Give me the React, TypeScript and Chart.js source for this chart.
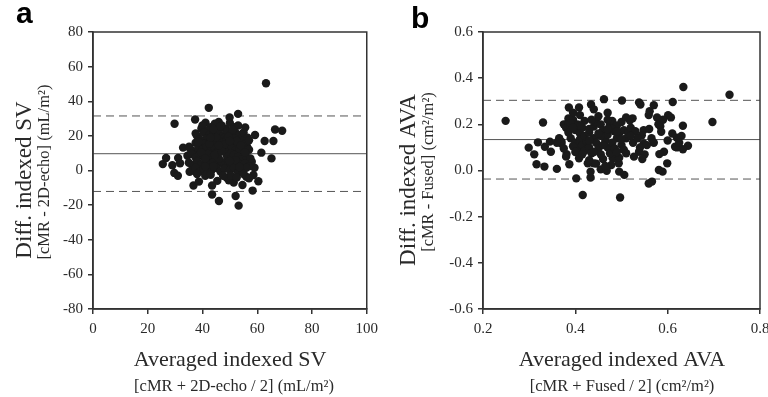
import React, { useEffect, useRef } from "react";
import { Chart, registerables } from "chart.js";

Chart.register(...registerables);

// Panel a: indexed SV (averaged vs difference)
const svAvg = [
  63.2, 42.3, 29.8, 37.3, 53, 49.9, 66.5, 69.1, 62.7, 65.9, 59.2, 61.5, 65.2, 25.5, 26.7, 29, 29.7, 31, 31.1, 36.7,
  38.7, 43.5, 46, 52.1, 53.2, 58.3, 60.4, 58.6, 59, 58, 54.6, 56, 51.4, 49.6, 48.8, 45.4, 43.5, 32.9, 35.1, 31.8,
  35.3, 37.5, 39.6, 41.1, 45.9, 55.6, 55.6, 56.3, 55.1,
  40, 43, 44.5, 47, 48.5, 50, 51.5, 53, 45, 42,
  38, 40.5, 42.5, 44, 46, 47.5, 49, 50.5, 52, 53.5, 55, 56.5, 41.5, 48,
  37.5, 39, 40.5, 43, 44.5, 46, 47.5, 49, 50.5, 51.8, 53, 54.5, 56, 57, 45, 52.5,
  35.5, 37, 38.5, 40, 41.5, 43, 44.5, 46, 47.5, 49, 50.5, 52, 53.5, 55, 57, 48.5, 50.5,
  34.5, 36, 37.5, 39, 40.5, 42, 43.5, 49, 50.5, 51.5, 53, 54.5, 56, 57.5, 45, 38,
  35, 36.5, 38, 39.5, 41, 42.5, 44, 45.5, 47, 48, 49.5, 51, 52.5, 54, 55.5, 57, 46,
  36, 37.5, 39, 40.5, 42, 43.5, 45, 46.5, 48, 50, 51.5, 53, 54.5, 56, 44, 41,
  38, 41, 43, 47.5, 50.5, 52.5, 55, 57,
  44, 46.5, 51, 49.5, 52.5, 54, 48, 42.5, 39.5, 41, 44.5, 52, 53.5, 50, 47, 55.5, 43, 38.5, 46, 50,
];
const svDiff = [
  50.4, 36.2, 27, 29.5, 32.7, 30.6, 23.7, 23, 17, 17, 20.5, 10.3, 7, 3.7, 7.2, 3, -1.4, -3, 7.2, -8.7,
  -6.4, -13.9, -17.6, -14.7, -20.3, -11.6, -6.2, -2.6, 1.6, 5, -8.4, -3.6, -7, -5.7, -4.1, -6, -8.7, 13.2, 13.7, 4.2,
  -0.7, 21.4, 24.3, 27.6, 28.1, 24.9, 18.5, 13.7, 9.9,
  26, 25, 27, 26, 24, 27.5, 25, 26, 23.5, 23,
  20, 22, 20.5, 21.5, 22, 20, 22.5, 21, 22, 20.5, 22, 19, 18.5, 19,
  16, 18, 15.5, 17, 15, 17.5, 16, 18, 16.5, 18.5, 15.5, 17, 15.8, 17.5, 19, 13.5,
  12.5, 11, 13, 12, 13.5, 11.5, 13, 12, 14, 12.5, 13, 11.5, 12, 13, 12, 10.5, 10,
  8.5, 9.5, 7.5, 9, 8, 9.5, 7.5, 8, 7, 9, 8, 6.5, 8, 7, 10, 5.5,
  4.5, 3, 5, 3.5, 5.5, 4, 5, 3.5, 5, 3, 4.5, 3, 5, 3.5, 4, 2.5, 7,
  0, 1.5, -0.5, 1, -1, 0.5, 1.5, -0.5, 1, 0, 1.5, -1, 0.5, 1.5, 2.5, 2.5,
  -2, -3, -2.5, -3, -3, -4, -2, -4.5,
  24, 25.5, 23.5, 19.5, 17, 14.5, 15, 15.5, 10.5, 7, 9, 6, 2, 5.5, 11, 10.5, 19, 16.5, 14.5, 17,
];
const svMean = 9.7;
const svUpper = 31.5;
const svLower = -12.1;
const svXTicks = [0, 20, 40, 60, 80, 100];
const svYTicks = [-80, -60, -40, -20, 0, 20, 40, 60, 80];

// Panel b: indexed AVA (averaged vs difference)
const avaAvg = [
  0.249, 0.299, 0.311, 0.316, 0.319, 0.33, 0.333, 0.334, 0.347, 0.345, 0.36, 0.37, 0.381, 0.387, 0.402, 0.416, 0.497,
  0.386, 0.408, 0.434, 0.462, 0.501, 0.538, 0.541, 0.57, 0.611, 0.634, 0.734, 0.697, 0.633, 0.644, 0.633, 0.616, 0.62,
  0.599, 0.589, 0.581, 0.566, 0.559, 0.592, 0.582, 0.601, 0.607, 0.584, 0.586, 0.577, 0.559, 0.561, 0.548, 0.544, 0.548,
  0.538, 0.527, 0.524, 0.518, 0.506, 0.495, 0.494, 0.481, 0.478, 0.455, 0.44, 0.433, 0.433, 0.427, 0.408, 0.468,
  0.375, 0.38, 0.385, 0.39, 0.395, 0.385, 0.39, 0.4, 0.405, 0.41, 0.415, 0.42, 0.4, 0.405, 0.41, 0.415, 0.42, 0.425,
  0.43, 0.435, 0.42, 0.43, 0.44, 0.445, 0.45, 0.455, 0.46, 0.44, 0.445, 0.45, 0.455, 0.46, 0.465, 0.47, 0.475, 0.48,
  0.485, 0.49, 0.47, 0.475, 0.48, 0.485, 0.49, 0.495, 0.5, 0.505, 0.51, 0.5, 0.505, 0.515, 0.52, 0.525, 0.51, 0.365,
  0.37, 0.375, 0.395, 0.36, 0.38, 0.4, 0.43, 0.445, 0.465, 0.47, 0.48, 0.455, 0.435, 0.41, 0.395, 0.53, 0.54, 0.55,
  0.56, 0.565, 0.57, 0.58, 0.59, 0.6, 0.61, 0.62, 0.63, 0.625, 0.545, 0.555, 0.535, 0.495, 0.44, 0.51, 0.47,
  0.385, 0.39, 0.41, 0.395, 0.43, 0.45, 0.47, 0.49, 0.52, 0.5, 0.46, 0.43, 0.415, 0.44, 0.49,
];
const avaDiff = [
  0.215, 0.099, 0.07, 0.027, 0.122, 0.208, 0.017, 0.103, 0.081, 0.125, 0.007, 0.117, 0.071, 0.027, -0.034, -0.106, -0.117,
  0.273, 0.273, 0.286, 0.309, 0.303, 0.295, 0.286, 0.283, 0.297, 0.362, 0.328, 0.21, 0.194, 0.107, 0.092, 0.103, 0.142,
  0.031, -0.005, 0.002, -0.048, -0.056, 0.081, 0.071, 0.24, 0.23, 0.192, 0.168, 0.23, 0.24, 0.257, 0.175, 0.153, 0.117,
  0.081, 0.06, 0.226, 0.218, -0.019, -0.005, 0.031, 0.053, 0.024, 0.005, 0.031, -0.03, -0.005, 0.031, 0.053, -0.001,
  0.2, 0.185, 0.21, 0.195, 0.22, 0.165, 0.14, 0.175, 0.2, 0.16, 0.185, 0.215, 0.12, 0.095, 0.135, 0.11, 0.085, 0.125,
  0.1, 0.075, 0.15, 0.165, 0.19, 0.21, 0.235, 0.2, 0.175, 0.14, 0.12, 0.095, 0.07, 0.05, 0.13, 0.155, 0.2, 0.215,
  0.17, 0.14, 0.1, 0.075, 0.12, 0.095, 0.195, 0.16, 0.21, 0.175, 0.14, 0.11, 0.09, 0.165, 0.185, 0.12, 0.075, 0.14,
  0.125, 0.095, 0.105, 0.12, 0.06, 0.08, 0.045, 0.03, 0.02, 0.25, 0.18, 0.15, 0.22, 0.24, 0.25, 0.17, 0.1, 0.07,
  0.18, 0.14, 0.12, 0.2, 0.22, 0.13, 0.16, 0.1, 0.15, 0.12, 0.05, 0.11, 0.14, 0.055, 0.265, 0.23, 0.22,
  0.225, 0.205, 0.195, 0.185, 0.18, 0.16, 0.18, 0.17, 0.15, 0.135, 0.11, 0.13, 0.07, 0.08, 0.08,
];
const avaMean = 0.134;
const avaUpper = 0.304;
const avaLower = -0.037;
const avaXTicks = [0.2, 0.4, 0.6, 0.8];
const avaYTicks = [-0.6, -0.4, -0.2, 0, 0.2, 0.4, 0.6];

const SERIF = '"Liberation Serif", "Times New Roman", serif';
const INK = "#2a2a2a";
const AXIS = "#333";

type PanelProps = {
  letter: string;
  xs: number[];
  ys: number[];
  mean: number;
  upper: number;
  lower: number;
  xTicks: number[];
  yTicks: number[];
  decimals: number;
  yTitle: string;
  ySub: string;
  xTitle: string;
  xSub: string;
  width: number;
  yAxisWidth: number;
  padRight: number;
  xTitleX: number;
  xSubX: number;
};

function Panel(p: PanelProps) {
  const ref = useRef<HTMLCanvasElement>(null);
  useEffect(() => {
    if (!ref.current) return;
    const xMin = p.xTicks[0];
    const xMax = p.xTicks[p.xTicks.length - 1];
    const yMin = p.yTicks[0];
    const yMax = p.yTicks[p.yTicks.length - 1];
    const fmt = (v: number) => {
      if (Math.abs(v) < 1e-9) return p.decimals ? (0).toFixed(p.decimals) : "0";
      return v.toFixed(p.decimals);
    };
    const hLine = (y: number, dash: number[]) => ({
      type: "line" as const,
      data: [
        { x: xMin, y },
        { x: xMax, y },
      ],
      borderColor: "#555",
      borderWidth: 1,
      borderDash: dash,
      pointRadius: 0,
      fill: false,
    });
    const textPlugin = {
      id: "texts",
      afterDraw(chart: any) {
        const ctx = chart.ctx as CanvasRenderingContext2D;
        const a = chart.chartArea;
        ctx.save();
        ctx.strokeStyle = AXIS;
        ctx.lineWidth = 1.5;
        ctx.strokeRect(a.left, a.top, a.right - a.left, a.bottom - a.top);
        ctx.fillStyle = "#000";
        ctx.font = 'bold 30px "Liberation Sans", Arial, sans-serif';
        ctx.textAlign = "left";
        ctx.textBaseline = "alphabetic";
        ctx.fillText(p.letter, p.letter === "a" ? 16 : 27, p.letter === "a" ? 23 : 28);
        ctx.fillStyle = INK;
        ctx.textAlign = "center";
        ctx.textBaseline = "middle";
        ctx.font = `22px ${SERIF}`;
        ctx.fillText(p.xTitle, p.xTitleX, 360);
        ctx.font = `16.5px ${SERIF}`;
        ctx.fillText(p.xSub, p.xSubX, 387);
        ctx.save();
        ctx.translate(25, 180);
        ctx.rotate(-Math.PI / 2);
        ctx.font = `23px ${SERIF}`;
        ctx.fillText(p.yTitle, 0, 0);
        ctx.restore();
        ctx.save();
        ctx.translate(45, 172);
        ctx.rotate(-Math.PI / 2);
        ctx.font = `16.5px ${SERIF}`;
        ctx.fillText(p.ySub, 0, 0);
        ctx.restore();
        ctx.restore();
      },
    };
    const chart = new Chart(ref.current, {
      type: "scatter",
      data: {
        datasets: [
          {
            type: "scatter",
            data: p.xs.map((x, i) => ({ x, y: p.ys[i] })),
            backgroundColor: "#1a1a1a",
            borderColor: "#1a1a1a",
            borderWidth: 0,
            pointRadius: 4.2,
          },
          hLine(p.mean, []),
          hLine(p.upper, [8, 5]),
          hLine(p.lower, [8, 5]),
        ] as any,
      },
      options: {
        animation: false,
        responsive: false,
        maintainAspectRatio: false,
        layout: { padding: { left: 0, right: p.padRight, top: 32, bottom: 0 } },
        plugins: { legend: { display: false }, tooltip: { enabled: false } },
        scales: {
          x: {
            type: "linear",
            min: xMin,
            max: xMax,
            afterBuildTicks: (s: any) => {
              s.ticks = p.xTicks.map((v) => ({ value: v }));
            },
            afterFit: (s: any) => {
              s.height = 88;
            },
            grid: { display: true, drawOnChartArea: false, drawTicks: true, tickLength: 5, color: AXIS, lineWidth: 1.5 },
            border: { display: true, color: AXIS, width: 1.5 },
            ticks: {
              color: INK,
              font: { family: SERIF, size: 15 },
              padding: 6,
              maxRotation: 0,
              autoSkip: false,
              callback: (v: any) => fmt(Number(v)),
            },
          },
          y: {
            type: "linear",
            min: yMin,
            max: yMax,
            afterBuildTicks: (s: any) => {
              s.ticks = p.yTicks.map((v) => ({ value: v }));
            },
            afterFit: (s: any) => {
              s.width = p.yAxisWidth;
            },
            grid: { display: true, drawOnChartArea: false, drawTicks: true, tickLength: 5, color: AXIS, lineWidth: 1.5 },
            border: { display: true, color: AXIS, width: 1.5 },
            ticks: {
              color: INK,
              font: { family: SERIF, size: 15 },
              padding: 5,
              autoSkip: false,
              callback: (v: any) => fmt(Number(v)),
            },
          },
        },
      } as any,
      plugins: [textPlugin],
    });
    return () => chart.destroy();
  }, []);
  return <canvas ref={ref} width={p.width} height={397} style={{ display: "block", width: p.width, height: 397 }} />;
}

export default function App() {
  return (
    <div style={{ position: "fixed", left: 0, top: 0, width: 768, height: 397, background: "#fff", overflow: "hidden" }}>
      <div style={{ position: "absolute", left: 0, top: 0, width: 384, height: 397, overflow: "hidden" }}>
        <Panel
          letter="a"
          xs={svAvg}
          ys={svDiff}
          mean={svMean}
          upper={svUpper}
          lower={svLower}
          xTicks={svXTicks}
          yTicks={svYTicks}
          decimals={0}
          yTitle="Diff. indexed SV"
          ySub="[cMR - 2D-echo] (mL/m²)"
          xTitle="Averaged indexed SV"
          xSub="[cMR + 2D-echo / 2] (mL/m²)"
          width={384}
          yAxisWidth={93}
          padRight={15}
          xTitleX={230}
          xSubX={234}
        />
      </div>
      <div style={{ position: "absolute", left: 384, top: 0, width: 384, height: 397, overflow: "hidden" }}>
        <Panel
          letter="b"
          xs={avaAvg}
          ys={avaDiff}
          mean={avaMean}
          upper={avaUpper}
          lower={avaLower}
          xTicks={avaXTicks}
          yTicks={avaYTicks}
          decimals={1}
          yTitle="Diff. indexed AVA"
          ySub="[cMR - Fused] (cm²/m²)"
          xTitle="Averaged indexed AVA"
          xSub="[cMR + Fused / 2] (cm²/m²)"
          width={400}
          yAxisWidth={99}
          padRight={24}
          xTitleX={238}
          xSubX={238}
        />
      </div>
    </div>
  );
}
